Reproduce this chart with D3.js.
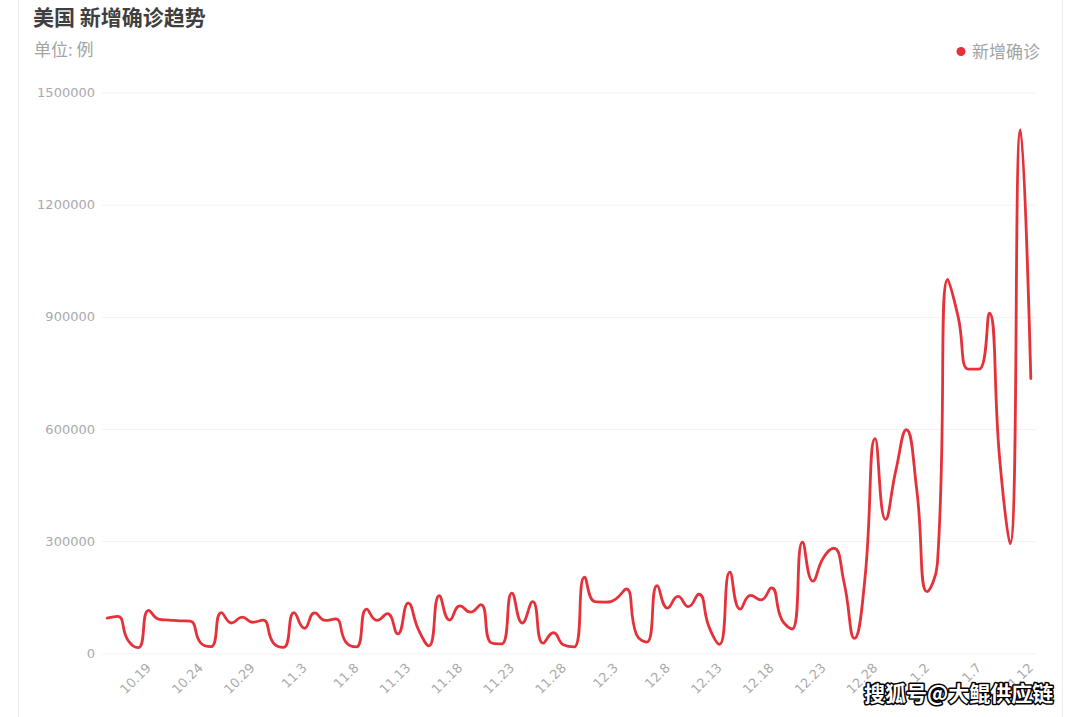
<!DOCTYPE html>
<html>
<head>
<meta charset="utf-8">
<script src="https://cdn.jsdelivr.net/npm/d3@7"></script>
<style>
  html, body { margin: 0; padding: 0; background: #fff; }
  svg { display: block; font-family: "Noto Sans CJK SC", "Noto Sans", sans-serif; }
</style>
</head>
<body>
<svg id="chart" width="1080" height="717"></svg>
<script>
// ---- data ----
const dates = [
  "10.15","10.16","10.17","10.18","10.19","10.20","10.21","10.22","10.23","10.24",
  "10.25","10.26","10.27","10.28","10.29","10.30","10.31","11.1","11.2","11.3",
  "11.4","11.5","11.6","11.7","11.8","11.9","11.10","11.11","11.12","11.13",
  "11.14","11.15","11.16","11.17","11.18","11.19","11.20","11.21","11.22","11.23",
  "11.24","11.25","11.26","11.27","11.28","11.29","11.30","12.1","12.2","12.3",
  "12.4","12.5","12.6","12.7","12.8","12.9","12.10","12.11","12.12","12.13",
  "12.14","12.15","12.16","12.17","12.18","12.19","12.20","12.21","12.22","12.23",
  "12.24","12.25","12.26","12.27","12.28","12.29","12.30","12.31","1.1","1.2",
  "1.3","1.4","1.5","1.6","1.7","1.8","1.9","1.10","1.11","1.12"
];
const newCases = [
  94000, 99000, 35000, 15000, 115000, 91000, 89000, 87000, 86000, 28000,
  18000, 109000, 81000, 97000, 83000, 89000, 28000, 16000, 109000, 67000,
  108000, 88000, 92000, 30000, 17000, 118000, 88000, 106000, 52000, 134000,
  63000, 20000, 154000, 89000, 127000, 110000, 130000, 28000, 25000, 161000,
  81000, 138000, 27000, 55000, 22000, 17000, 204000, 138000, 137000, 145000,
  172000, 50000, 30000, 181000, 121000, 152000, 125000, 158000, 70000, 24000,
  217000, 118000, 155000, 143000, 175000, 90000, 65000, 297000, 193000, 255000,
  281000, 190000, 40000, 195000, 574000, 358000, 490000, 598000, 440000, 165000,
  240000, 1000000, 900000, 760000, 760000, 910000, 520000, 293000, 1400000, 735000
];
const yTicks = [0, 300000, 600000, 900000, 1200000, 1500000];
const xTickLabels = dates.filter((d, i) => i % 5 === 4);
const titleText = "美国 新增确诊趋势";
const subtitleText = "单位: 例";
const seriesName = "新增确诊";
const watermark = "搜狐号@大鲲供应链";

// ---- ECharts-like smooth curve as a d3 curve factory ----
function EchartsSmooth(context) { this._context = context; }
EchartsSmooth.prototype = {
  areaStart() {}, areaEnd() {},
  lineStart() { this._pts = []; },
  point(x, y) { this._pts.push([+x, +y]); },
  lineEnd() {
    const ctx = this._context, p = this._pts, smooth = 0.5;
    if (!p.length) return;
    let cpx0, cpy0, prevX, prevY;
    for (let i = 0; i < p.length; i++) {
      const x = p[i][0], y = p[i][1];
      if (i === 0) { ctx.moveTo(x, y); cpx0 = x; cpy0 = y; }
      else {
        let cpx1, cpy1, nextCpx0, nextCpy0;
        if (i === p.length - 1) { cpx1 = x; cpy1 = y; }
        else {
          const nextX = p[i + 1][0], nextY = p[i + 1][1];
          let vx = nextX - prevX, vy = nextY - prevY;
          const dx0 = x - prevX, dx1 = nextX - x, dy0 = y - prevY, dy1 = nextY - y;
          const lenPrev = Math.sqrt(dx0 * dx0 + dy0 * dy0);
          const lenNext = Math.sqrt(dx1 * dx1 + dy1 * dy1);
          const r = lenNext / (lenNext + lenPrev);
          nextCpx0 = x + vx * smooth * r;
          nextCpy0 = y + vy * smooth * r;
          nextCpx0 = Math.min(nextCpx0, Math.max(nextX, x));
          nextCpy0 = Math.min(nextCpy0, Math.max(nextY, y));
          nextCpx0 = Math.max(nextCpx0, Math.min(nextX, x));
          nextCpy0 = Math.max(nextCpy0, Math.min(nextY, y));
          vx = nextCpx0 - x; vy = nextCpy0 - y;
          cpx1 = x - vx * lenPrev / lenNext;
          cpy1 = y - vy * lenPrev / lenNext;
          cpx1 = Math.min(cpx1, Math.max(prevX, x));
          cpy1 = Math.min(cpy1, Math.max(prevY, y));
          cpx1 = Math.max(cpx1, Math.min(prevX, x));
          cpy1 = Math.max(cpy1, Math.min(prevY, y));
          vx = x - cpx1; vy = y - cpy1;
          nextCpx0 = x + vx * lenNext / lenPrev;
          nextCpy0 = y + vy * lenNext / lenPrev;
        }
        ctx.bezierCurveTo(cpx0, cpy0, cpx1, cpy1, x, y);
        cpx0 = nextCpx0; cpy0 = nextCpy0;
      }
      prevX = x; prevY = y;
    }
  }
};
const curveEcharts = ctx => new EchartsSmooth(ctx);

// ---- layout ----
const svg = d3.select("#chart");
const gridLeft = 102, gridRight = 1036, gridTop = 92.5, gridBottom = 653.3;
const numFont = "'DejaVu Sans', sans-serif";

// card borders
svg.append("line").attr("x1", 18.5).attr("x2", 18.5).attr("y1", 0).attr("y2", 717)
  .attr("stroke", "#ececec").attr("stroke-width", 1);
svg.append("line").attr("x1", 1062.5).attr("x2", 1062.5).attr("y1", 0).attr("y2", 717)
  .attr("stroke", "#ececec").attr("stroke-width", 1);

const x = d3.scaleBand().domain(dates).range([gridLeft, gridRight]).padding(0);
const xc = d => x(d) + x.bandwidth() / 2;
const y = d3.scaleLinear().domain([0, 1500000]).range([gridBottom, gridTop]);

// title
svg.append("text").attr("x", 33).attr("y", 25).text(titleText)
  .style("font-size", "21px").style("font-weight", "bold").attr("fill", "#3f3f3f");
svg.append("text").attr("x", 34).attr("y", 56).text(subtitleText)
  .style("font-size", "17px").attr("fill", "#a3a3a3");

// legend
svg.append("circle").attr("cx", 961).attr("cy", 51.5).attr("r", 4.5).attr("fill", "#e5323a");
svg.append("text").attr("x", 972).attr("y", 57.5).text(seriesName)
  .style("font-size", "17px").attr("fill", "#a3a3a3");

// y axis + grid
const yAxis = d3.axisLeft(y).tickValues(yTicks).tickSize(-(gridRight - gridLeft)).tickPadding(7)
  .tickFormat(d => String(d));
const gy = svg.append("g").attr("transform", `translate(${gridLeft},0)`).call(yAxis);
gy.select(".domain").remove();
gy.selectAll(".tick line").attr("stroke", "#f2f2f2").attr("stroke-width", 1);
gy.selectAll(".tick text").style("font-size", "13px").attr("fill", "#aaaaaa")
  .style("font-family", numFont);

// x axis
const xAxis = d3.axisBottom(x).tickValues(xTickLabels).tickSize(0).tickPadding(0);
const gx = svg.append("g").attr("transform", `translate(0,${gridBottom})`).call(xAxis);
gx.select(".domain").remove();
gx.selectAll(".tick text")
  .style("font-size", "13px").attr("fill", "#aaaaaa")
  .style("font-family", numFont)
  .attr("text-anchor", "end")
  .attr("dy", "0.35em")
  .attr("transform", "translate(0,12) rotate(-45)")
  .attr("y", 0);

// line
const line = d3.line().x(d => xc(d[0])).y(d => y(d[1])).curve(curveEcharts);
svg.append("path").datum(dates.map((d, i) => [d, newCases[i]]))
  .attr("d", line).attr("fill", "none").attr("stroke", "#e5323a")
  .attr("stroke-width", 2.8).attr("stroke-linejoin", "round").attr("stroke-linecap", "round");

// watermark
svg.append("text").attr("x", 864).attr("y", 701).text(watermark)
  .style("font-size", "21px").style("font-weight", "bold")
  .attr("fill", "#fff").attr("stroke", "#000").attr("stroke-width", 3)
  .attr("paint-order", "stroke").attr("stroke-linejoin", "round");
</script>
</body>
</html>
